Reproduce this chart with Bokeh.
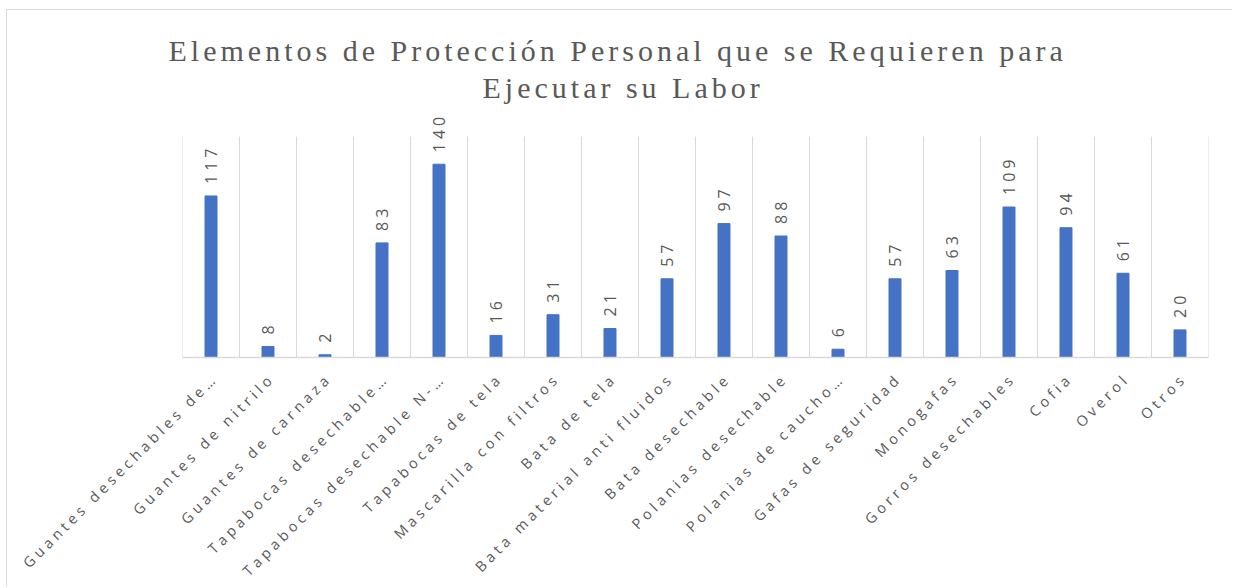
from math import pi, sqrt
from bokeh.plotting import figure
from bokeh.models import FactorRange, Range1d, ColumnDataSource, Title
from bokeh.transform import dodge
from bokeh.core.properties import value
from bokeh.embed import file_html
from bokeh.resources import INLINE

title_line1 = "Elementos  de Protección Personal que se Requieren para"
title_line2 = "Ejecutar su Labor"

categories = [
    "Guantes desechables de…",
    "Guantes de nitrilo",
    "Guantes de carnaza",
    "Tapabocas desechable…",
    "Tapabocas desechable N-…",
    "Tapabocas de tela",
    "Mascarilla con filtros",
    "Bata de tela",
    "Bata material anti fluidos",
    "Bata desechable",
    "Polanias desechable",
    "Polanias de caucho…",
    "Gafas de seguridad",
    "Monogafas",
    "Gorros desechables",
    "Cofia",
    "Overol",
    "Otros",
]
values = [117, 8, 2, 83, 140, 16, 31, 21, 57, 97, 88, 6, 57, 63, 109, 94, 61, 20]
grid_top = 160      # vertical gridlines end here
range_top = 176     # headroom for the value labels

GRID = "#d9d9d9"
TXT = "#595959"
BAR = "#4472C4"
SPACING = 4  # css letter-spacing in px
r2 = sqrt(0.5)

# compensate for letter spacing on right-aligned rotated labels
n_chars = [len(c) for c in categories]
lab_dx = [1 - (n - 1) * SPACING * r2 for n in n_chars]
lab_dy = [21 + (n - 1) * SPACING * r2 for n in n_chars]

src = ColumnDataSource(dict(cat=categories, val=values, lbl=[str(v) for v in values],
                            base=[0] * len(values), dx=lab_dx, dy=lab_dy))
last = ColumnDataSource(dict(cat=categories[-1:]))

p = figure(
    width=1226, height=577,
    x_range=FactorRange(factors=categories, range_padding=0),
    y_range=Range1d(0, range_top),
    output_backend="svg", toolbar_location=None,
    min_border_left=175, min_border_right=25, min_border_top=104, min_border_bottom=230,
)
p.styles = {
    "letter-spacing": f"{SPACING}px",
    "white-space": "pre",
    "margin-left": "6px", "margin-top": "9px",
    "border-left": "1px solid #d9d9d9", "border-top": "1px solid #d9d9d9",
}

t2 = Title(text=title_line2, align="left", offset=300, standoff=21,
           text_font="Liberation Serif", text_font_size="30px",
           text_font_style="normal", text_color=TXT)
t1 = Title(text=title_line1, align="left", offset=-14, standoff=-16,
           text_font="Liberation Serif", text_font_size="30px",
           text_font_style="normal", text_color=TXT)
p.add_layout(t2, "above")
p.add_layout(t1, "above")

p.outline_line_color = None
p.background_fill_color = "white"
p.border_fill_color = "white"
p.ygrid.visible = False
p.xgrid.visible = False
p.yaxis.visible = False

# category boundary gridlines
p.segment(x0=dodge("cat", -0.5, range=p.x_range), y0=0,
          x1=dodge("cat", -0.5, range=p.x_range), y1=grid_top,
          source=src, line_color=GRID, line_width=1)
p.segment(x0=dodge("cat", 0.5, range=p.x_range), y0=0,
          x1=dodge("cat", 0.5, range=p.x_range), y1=grid_top,
          source=last, line_color=GRID, line_width=1)

p.vbar(x="cat", top="val", width=0.21, source=src, fill_color=BAR, line_color=BAR)

# value labels
p.text(x="cat", y="val", text="lbl", source=src, angle=pi / 2,
       text_align="left", text_baseline="middle", y_offset=-12,
       text_font=value("Open Sans"), text_font_size="16px", text_color=TXT,
       level="overlay")

# category labels (tick labels), letter-spaced like the original
p.text(x="cat", y="base", text="cat", source=src, angle=pi / 4,
       text_align="right", text_baseline="middle", x_offset="dx", y_offset="dy",
       text_font=value("Open Sans"), text_font_size="14.5px", text_color=TXT,
       level="overlay")

ax = p.xaxis[0]
ax.major_label_text_color = None
ax.axis_line_color = GRID
ax.axis_line_width = 1.5
ax.major_tick_line_color = None
ax.minor_tick_line_color = None

open("out.html", "w").write(file_html(p, INLINE))
